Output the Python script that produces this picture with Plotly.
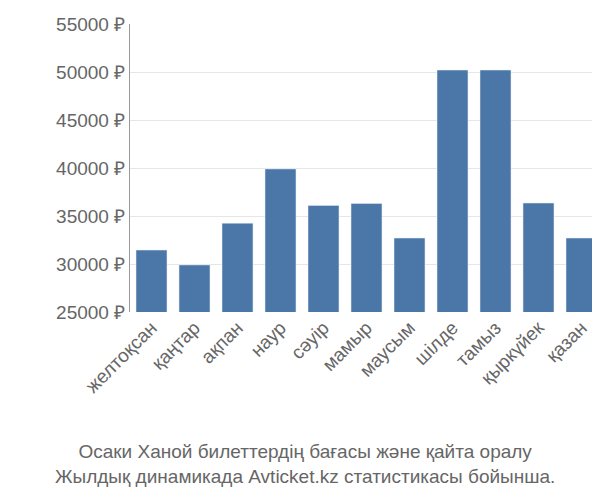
import plotly.graph_objects as go

months = ["желтоқсан", "қаңтар", "ақпан", "наур", "сәуір", "мамыр",
          "маусым", "шілде", "тамыз", "қыркүйек", "қазан"]
prices = [31450, 29900, 34250, 39900, 36100, 36300,
          32700, 50200, 50200, 36350, 32700]
y_ticks = [25000, 30000, 35000, 40000, 45000, 50000, 55000]

fig = go.Figure(go.Bar(x=months, y=prices, marker_color="#4a76a8", width=0.72))

fig.update_layout(
    width=600, height=500,
    plot_bgcolor="white", paper_bgcolor="white",
    margin=dict(l=122, r=5, t=16, b=196, autoexpand=False),
    font=dict(family="Liberation Sans, Arial", size=19, color="#666"),
    showlegend=False,
    annotations=[dict(
        text="Осаки Ханой билеттердің бағасы және қайта оралу<br>Жылдық динамикада Avticket.kz статистикасы бойынша.",
        xref="paper", yref="paper", x=0.37, y=-0.44, xanchor="center", yanchor="top",
        showarrow=False, font=dict(size=19, color="#666"))],
)
fig.update_yaxes(range=[25000, 55000], tickvals=y_ticks,
                 ticktext=[f"{v} ₽" for v in y_ticks], automargin=False,
                 showgrid=True, gridcolor="#e6e6e6",
                 showline=True, linecolor="#999", zeroline=False)
fig.update_xaxes(tickangle=-45, showline=False, automargin=False)

fig.write_html("out.html")
